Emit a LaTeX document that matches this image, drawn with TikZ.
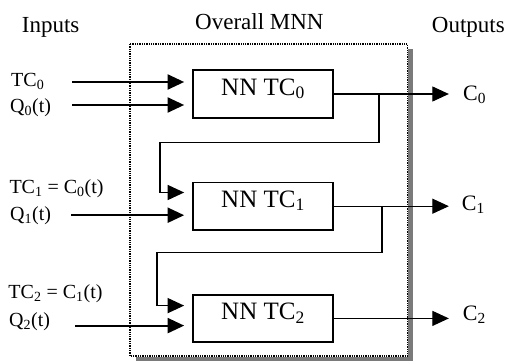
\documentclass[tikz,border=0pt]{standalone}
\usepackage{fontspec}
\setmainfont{Liberation Serif}
\usetikzlibrary{arrows.meta,positioning,calc}

\begin{document}
\begin{tikzpicture}[x=1pt, y=-1pt, >={Triangle[length=16.5pt,width=15pt]},
  hdr/.style={inner sep=0pt, anchor=base west, font=\fontsize{23}{28}\selectfont},
  inlbl/.style={inner sep=0pt, anchor=base west, font=\fontsize{20}{24}\selectfont},
  outlbl/.style={inner sep=0pt, anchor=base west, font=\fontsize{22}{26}\selectfont},
  nnbox/.style={draw, line width=1.7pt, minimum width=140pt, minimum height=47.5pt,
    inner sep=0pt, text height=17pt, text depth=15pt, font=\fontsize{25}{30}\selectfont},
  inarr/.style={->, line width=2pt, shorten >=8pt},
  feed/.style={->, line width=1.5pt, shorten >=8pt},
  outarr/.style={->, line width=1.1pt}]
  \fill[white] (0,0) rectangle (505,361);
  \useasboundingbox (0,0) rectangle (505,361);

  % frame of the whole network, with its shadow on the right and below
  \fill[black!52] (408,49) rectangle (413,361);
  \fill[black!52] (136,357.3) rectangle (413,361);
  \draw[line width=1.3pt, dash pattern=on 1.3pt off 1pt] (130,44) rectangle (407.5,356);

  % headings
  \node[hdr] (inputs) at (21.7,33) {Inputs};
  \node[hdr] (mnn) at (195,30) {Overall MNN};
  \node[hdr] (outputs) at (431.7,33) {Outputs};

  % the three sub-networks
  \node[nnbox] (nn0) at (263,94) {NN TC\textsubscript{0}};
  \node[nnbox, below=63pt of nn0] (nn1) {NN TC\textsubscript{1}};
  \node[nnbox, below=63pt of nn1] (nn2) {NN TC\textsubscript{2}};

  % input labels
  \node[inlbl] (tc0) at (11,86.5) {TC\textsubscript{0}};
  \node[inlbl] (q0) at (10,112) {Q\textsubscript{0}(t)};
  \node[inlbl] (tc1) at (9.3,193.5) {TC\textsubscript{1} = C\textsubscript{0}(t)};
  \node[inlbl] (q1) at (10,220.5) {Q\textsubscript{1}(t)};
  \node[inlbl] (tc2) at (8.3,298.5) {TC\textsubscript{2} = C\textsubscript{1}(t)};
  \node[inlbl] (q2) at (9,326.5) {Q\textsubscript{2}(t)};

  % output labels
  \node[outlbl] (c0) at (463,100) {C\textsubscript{0}};
  \node[outlbl] (c1) at (461.7,210) {C\textsubscript{1}};
  \node[outlbl] (c2) at (462.7,320.7) {C\textsubscript{2}};

  % external inputs
  \coordinate (s0a) at ($(nn0.west)+(-120,-12)$);
  \coordinate (s0b) at ($(nn0.west)+(-120,11)$);
  \coordinate (s1b) at ($(nn1.west)+(-121,9)$);
  \coordinate (s2b) at ($(nn2.west)+(-117,7.2)$);
  \draw[inarr] (s0a) -- (s0a -| nn0.west);
  \draw[inarr] (s0b) -- (s0b -| nn0.west);
  \draw[inarr] (s1b) -- (s1b -| nn1.west);
  \draw[inarr] (s2b) -- (s2b -| nn2.west);

  % outputs
  \coordinate (o0) at ($(nn0.east)+(115,0)$);
  \coordinate (o1) at ($(nn1.east)+(115,0)$);
  \coordinate (o2) at ($(nn2.east)+(115,0)$);
  \draw[outarr] (nn0.east) -- (o0);
  \draw[outarr] (nn1.east) -- (o1);
  \draw[outarr] (nn2.east) -- (o2);

  % each output fed back as the next TC input
  \coordinate (j0) at ($(nn0.east)+(45,0)$);
  \coordinate (k0) at (160,142.3);
  \coordinate (e1) at ($(nn1.west)+(0,-13.7)$);
  \draw[feed] (j0) |- (k0) |- (e1);
  \coordinate (j1) at ($(nn1.east)+(48,0)$);
  \coordinate (k1) at (157,252.3);
  \coordinate (e2) at ($(nn2.west)+(0,-12.8)$);
  \draw[feed] (j1) |- (k1) |- (e2);
\end{tikzpicture}
\end{document}
